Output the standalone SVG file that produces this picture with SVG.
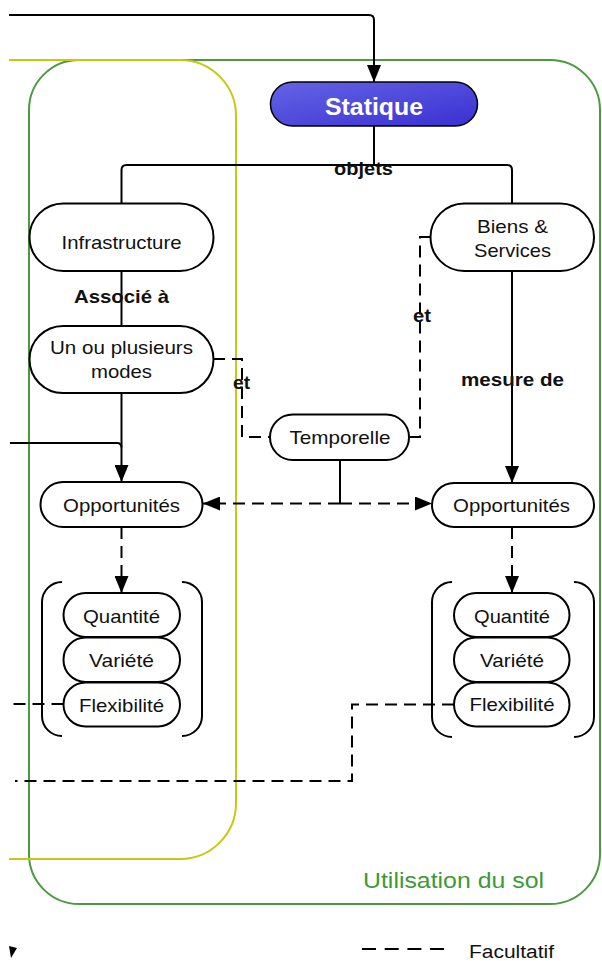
<svg xmlns="http://www.w3.org/2000/svg" width="602" height="961" viewBox="0 0 602 961">
<defs>
<linearGradient id="blue" x1="0" y1="0" x2="1" y2="1">
<stop offset="0" stop-color="#6464e6"/>
<stop offset="1" stop-color="#3a30d2"/>
</linearGradient>
<marker id="arr" markerUnits="userSpaceOnUse" viewBox="0 0 17 14" markerWidth="17" markerHeight="14" refX="17" refY="7" orient="auto">
<path d="M0,0 L17,7 L0,14 z" fill="#000"/>
</marker>
<style>
.node{fill:#fff;stroke:#000;stroke-width:2}
.t{font-family:"Liberation Sans",Arial,sans-serif;font-size:19px;fill:#111;text-anchor:middle}
.b{font-family:"Liberation Sans",Arial,sans-serif;font-size:19px;font-weight:bold;fill:#111;text-anchor:middle}
.c{fill:none;stroke:#000;stroke-width:2}
.d{fill:none;stroke:#000;stroke-width:2;stroke-dasharray:12 7}
.br{fill:none;stroke:#000;stroke-width:2}
</style>
</defs>
<rect width="602" height="961" fill="#fff"/>

<g id="containers">
<rect x="29" y="60" width="571" height="844" rx="50" fill="none" stroke="#4c9a40" stroke-width="2"/>
<path d="M9,60 H180 A56,56 0 0 1 236,116 V803 A56,56 0 0 1 180,859 H9" fill="none" stroke="#c8c814" stroke-width="2"/>
<text x="363" y="888" font-family="'Liberation Sans',Arial,sans-serif" font-size="22" fill="#3d9a37" textLength="181" lengthAdjust="spacingAndGlyphs">Utilisation du sol</text>
</g>

<g id="connectors">
<path class="c" d="M9,15 H369 Q374,15 374,20 V82" marker-end="url(#arr)"/>
<path class="c" d="M374,126 V165"/>
<path class="c" d="M121.5,203.5 V170 Q121.5,165 126.5,165 H507 Q512,165 512,170 V203.5"/>
<path class="c" d="M121.5,271 V326"/>
<path class="c" d="M121.5,393 V482" marker-end="url(#arr)"/>
<path class="c" d="M10,443 H117 Q121.5,443 121.5,447.5"/>
<path class="c" d="M512,271 V483" marker-end="url(#arr)"/>
<path class="d" d="M213,359 H242 V437 H270"/>
<path class="d" d="M430.5,237 H420 V437 H409"/>
<path class="c" d="M340,460 V503.5"/>
<path class="d" d="M340,503.5 H203" marker-end="url(#arr)"/>
<path class="d" d="M340,503.5 H432" marker-end="url(#arr)"/>
<path class="d" d="M121.5,527 V593" marker-end="url(#arr)"/>
<path class="d" d="M512,527 V593" marker-end="url(#arr)"/>
<path class="d" d="M63.5,704 H10"/>
<path class="d" d="M454,704.5 H352 V781 H15"/>
<text class="b" x="363.5" y="175" textLength="59" lengthAdjust="spacingAndGlyphs">objets</text>
<text class="b" x="121.5" y="303" textLength="95" lengthAdjust="spacingAndGlyphs">Associé à</text>
<text class="b" x="512.5" y="386" textLength="103" lengthAdjust="spacingAndGlyphs">mesure de</text>
<text class="b" x="241.5" y="389" textLength="17" lengthAdjust="spacingAndGlyphs">et</text>
<text class="b" x="422" y="322" textLength="18" lengthAdjust="spacingAndGlyphs">et</text>
</g>

<g id="statique">
<rect x="270.5" y="82" width="207" height="44" rx="22" fill="url(#blue)" stroke="#000" stroke-width="1.5"/>
<text x="374" y="115" font-family="'Liberation Sans',Arial,sans-serif" font-size="24" font-weight="bold" fill="#fff" text-anchor="middle" textLength="98" lengthAdjust="spacingAndGlyphs">Statique</text>
</g>

<g id="infrastructure">
<rect class="node" x="29.5" y="203.5" width="184" height="67.5" rx="33.75"/>
<text class="t" x="121.5" y="249" textLength="120" lengthAdjust="spacingAndGlyphs">Infrastructure</text>
</g>

<g id="biens-services">
<rect class="node" x="430.5" y="203.5" width="163.5" height="67.5" rx="33.75"/>
<text class="t" x="512.5" y="232.5" textLength="71" lengthAdjust="spacingAndGlyphs">Biens &amp;</text>
<text class="t" x="512.5" y="256.5" textLength="77" lengthAdjust="spacingAndGlyphs">Services</text>
</g>

<g id="modes">
<rect class="node" x="29.5" y="326" width="184" height="67" rx="33.5"/>
<text class="t" x="121.5" y="354" textLength="143" lengthAdjust="spacingAndGlyphs">Un ou plusieurs</text>
<text class="t" x="121.5" y="378" textLength="61" lengthAdjust="spacingAndGlyphs">modes</text>
</g>

<g id="temporelle">
<rect class="node" x="270" y="414.5" width="139" height="45.5" rx="22.75"/>
<text class="t" x="340" y="444" textLength="101" lengthAdjust="spacingAndGlyphs">Temporelle</text>
</g>

<g id="opportunites-left">
<rect class="node" x="40.5" y="482" width="162" height="45" rx="22.5"/>
<text class="t" x="121.5" y="511.5" textLength="117" lengthAdjust="spacingAndGlyphs">Opportunités</text>
</g>

<g id="opportunites-right">
<rect class="node" x="432" y="483" width="162" height="44" rx="22"/>
<text class="t" x="511.5" y="511.5" textLength="117" lengthAdjust="spacingAndGlyphs">Opportunités</text>
</g>

<g id="group-left">
<path class="br" d="M62,582 A20,20 0 0 0 42,602 V716 A20,20 0 0 0 62,736"/>
<path class="br" d="M182,582 A20,20 0 0 1 202,602 V716 A20,20 0 0 1 182,736"/>
</g>
<g id="quantite-left">
<rect class="node" x="63.5" y="593" width="116.5" height="44" rx="22"/>
<text class="t" x="121.5" y="623" textLength="77" lengthAdjust="spacingAndGlyphs">Quantité</text>
</g>
<g id="variete-left">
<rect class="node" x="63.5" y="637.5" width="116.5" height="44.5" rx="22"/>
<text class="t" x="121.5" y="667" textLength="65" lengthAdjust="spacingAndGlyphs">Variété</text>
</g>
<g id="flexibilite-left">
<rect class="node" x="63.5" y="682.5" width="116.5" height="44" rx="22"/>
<text class="t" x="121.5" y="712" textLength="85" lengthAdjust="spacingAndGlyphs">Flexibilité</text>
</g>

<g id="group-right">
<path class="br" d="M452,582 A20,20 0 0 0 432,602 V717 A20,20 0 0 0 452,737"/>
<path class="br" d="M574,582 A20,20 0 0 1 594,602 V717 A20,20 0 0 1 574,737"/>
</g>
<g id="quantite-right">
<rect class="node" x="454" y="593" width="115.5" height="44" rx="22"/>
<text class="t" x="512" y="623" textLength="76" lengthAdjust="spacingAndGlyphs">Quantité</text>
</g>
<g id="variete-right">
<rect class="node" x="454" y="637.5" width="115.5" height="44.5" rx="22"/>
<text class="t" x="512" y="667" textLength="64" lengthAdjust="spacingAndGlyphs">Variété</text>
</g>
<g id="flexibilite-right">
<rect class="node" x="454" y="682.5" width="115.5" height="44" rx="22"/>
<text class="t" x="512" y="711" textLength="85" lengthAdjust="spacingAndGlyphs">Flexibilité</text>
</g>

<g id="legend">
<polygon points="9,946 17,948 11,958" fill="#000"/>
<line x1="362" y1="949" x2="444" y2="949" stroke="#000" stroke-width="2" stroke-dasharray="14 8.7"/>
<text x="469" y="958" font-family="'Liberation Sans',Arial,sans-serif" font-size="18" fill="#111" textLength="85" lengthAdjust="spacingAndGlyphs">Facultatif</text>
</g>
</svg>
